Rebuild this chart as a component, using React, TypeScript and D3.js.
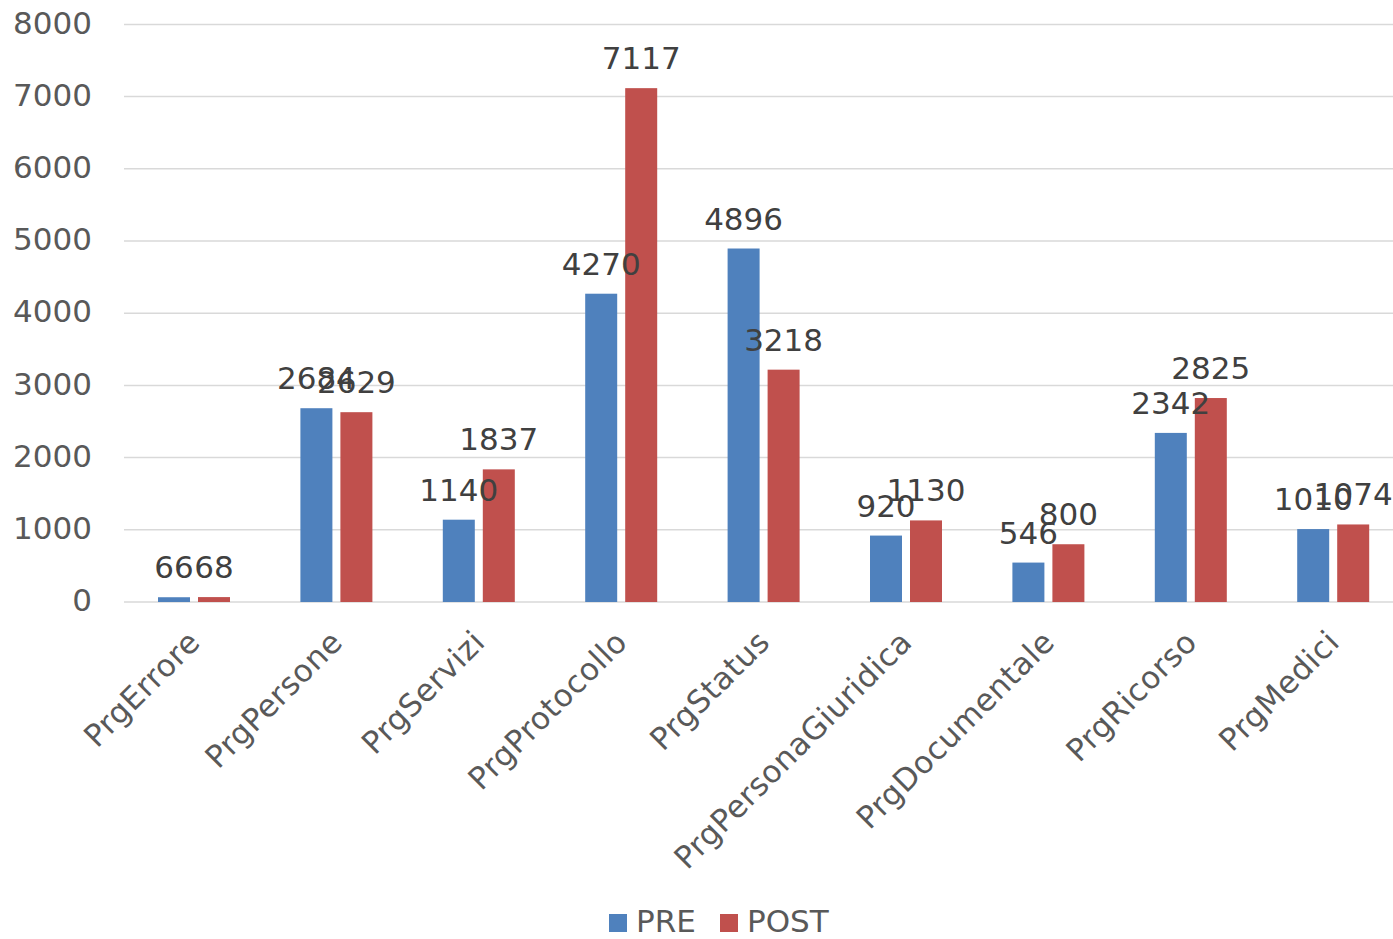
import React, { useEffect, useRef } from "react";
import * as d3 from "d3";

const categories = [
  "PrgErrore",
  "PrgPersone",
  "PrgServizi",
  "PrgProtocollo",
  "PrgStatus",
  "PrgPersonaGiuridica",
  "PrgDocumentale",
  "PrgRicorso",
  "PrgMedici",
];
const preValues = [66, 2684, 1140, 4270, 4896, 920, 546, 2342, 1010];
const postValues = [68, 2629, 1837, 7117, 3218, 1130, 800, 2825, 1074];
const seriesNames = ["PRE", "POST"];
const seriesColors = ["#4F81BD", "#C0504D"];
const yTicks = [0, 1000, 2000, 3000, 4000, 5000, 6000, 7000, 8000];

const W = 1393;
const H = 939;
const FONT = "'DejaVu Sans', Verdana, sans-serif";

export default function App() {
  const ref = useRef<SVGSVGElement | null>(null);

  useEffect(() => {
    document.body.style.margin = "0";
    const svg = d3.select(ref.current);
    svg.selectAll("*").remove();

    const x0 = d3.scaleBand<string>().domain(categories).range([122.8, 1404.4]).paddingInner(0).paddingOuter(0);
    const x1 = d3
      .scaleBand<string>()
      .domain(seriesNames)
      .range([0, x0.bandwidth()])
      .paddingInner(0.2)
      .paddingOuter(0.88);
    const y = d3.scaleLinear().domain([0, 8000]).range([602, 24.4]);

    const rows = categories.map((c, i) => ({ cat: c, vals: [preValues[i], postValues[i]] }));

    // gridlines
    svg
      .append("g")
      .selectAll("line")
      .data(yTicks)
      .join("line")
      .attr("x1", 124)
      .attr("x2", 1404)
      .attr("y1", (d) => y(d))
      .attr("y2", (d) => y(d))
      .attr("stroke", "#D9D9D9")
      .attr("stroke-width", 1.5);

    // y tick labels
    svg
      .append("g")
      .selectAll("text")
      .data(yTicks)
      .join("text")
      .attr("x", 92)
      .attr("y", (d) => y(d) - 2)
      .attr("dy", "0.36em")
      .attr("text-anchor", "end")
      .attr("font-family", FONT)
      .attr("font-size", 31)
      .attr("fill", "#595959")
      .text((d) => String(d));

    // bars
    const groups = svg
      .append("g")
      .selectAll("g")
      .data(rows)
      .join("g")
      .attr("transform", (d) => `translate(${x0(d.cat)},0)`);

    groups
      .selectAll("rect")
      .data((d) => d.vals.map((v, k) => ({ v, k })))
      .join("rect")
      .attr("x", (d) => x1(seriesNames[d.k])!)
      .attr("width", x1.bandwidth())
      .attr("y", (d) => y(d.v))
      .attr("height", (d) => y(0) - y(d.v))
      .attr("fill", (d) => seriesColors[d.k]);

    // data labels
    groups
      .selectAll("text")
      .data((d) => d.vals.map((v, k) => ({ v, k })))
      .join("text")
      .attr("x", (d) => x1(seriesNames[d.k])! + x1.bandwidth() / 2)
      .attr("y", (d) => y(d.v) - 19)
      .attr("text-anchor", "middle")
      .attr("font-family", FONT)
      .attr("font-size", 31)
      .attr("fill", "#404040")
      .text((d) => String(d.v));

    // category labels, rotated
    svg
      .append("g")
      .selectAll("text")
      .data(categories)
      .join("text")
      .attr("transform", (d) => `translate(${x0(d)! + x0.bandwidth() / 2},636) rotate(-45)`)
      .attr("text-anchor", "end")
      .attr("dy", "0.36em")
      .attr("letter-spacing", 0.5)
      .attr("font-family", FONT)
      .attr("font-size", 31)
      .attr("fill", "#595959")
      .text((d) => d);

    // legend
    const legendX = [609, 720];
    const legend = svg
      .append("g")
      .selectAll("g")
      .data(seriesNames)
      .join("g")
      .attr("transform", (_d, i) => `translate(${legendX[i]},0)`);
    legend
      .append("rect")
      .attr("x", 0)
      .attr("y", 914)
      .attr("width", 18)
      .attr("height", 18)
      .attr("fill", (_d, i) => seriesColors[i]);
    legend
      .append("text")
      .attr("x", 27)
      .attr("y", 932)
      .attr("font-family", FONT)
      .attr("font-size", 31)
      .attr("fill", "#595959")
      .text((d) => d);
  }, []);

  return <svg ref={ref} width={W} height={H} style={{ display: "block", background: "#fff" }} />;
}
